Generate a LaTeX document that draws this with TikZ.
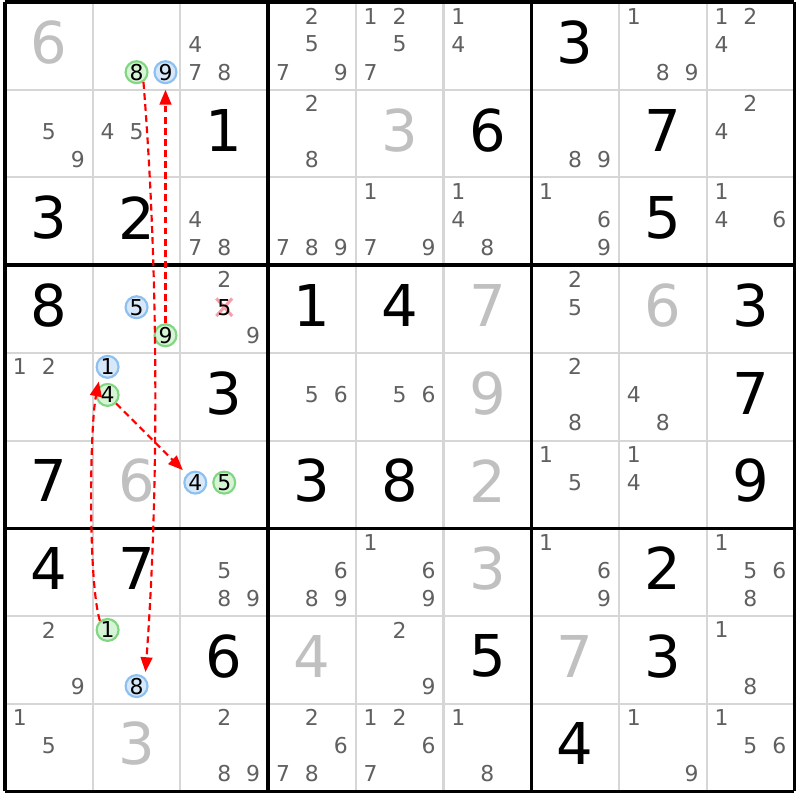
\documentclass[tikz,border=0pt]{standalone}
\usepackage{fontspec}
\setmainfont{DejaVu Sans}
\usetikzlibrary{arrows.meta}
\definecolor{candgray}{RGB}{96,96,96}
\definecolor{solvedgray}{RGB}{192,192,192}
\definecolor{thingrid}{RGB}{214,214,214}
\definecolor{greenfill}{RGB}{214,244,214}
\definecolor{greenline}{RGB}{130,214,130}
\definecolor{bluefill}{RGB}{214,232,250}
\definecolor{blueline}{RGB}{140,192,240}
\definecolor{crosspink}{RGB}{245,160,168}
\begin{document}
\begin{tikzpicture}[
        given/.style = {font = \fontsize{18.7}{20}\selectfont, inner sep = 0pt},
        solved/.style = {given, text = solvedgray},
        cand/.style = {font = \fontsize{7.1}{8}\selectfont, text = candgray, inner sep = 0pt},
        hlgreen/.style = {cand, text = black, circle, draw = greenline, fill = greenfill, line width = 0.7pt, minimum size = 0.25cm},
        hlblue/.style = {hlgreen, draw = blueline, fill = bluefill},
        link/.style = {red, line width = 0.7pt, dash pattern = on 2.2pt off 1.4pt, shorten > = 1.8pt, -{Triangle[length = 4.8pt, width = 3.8pt]}}
    ]
        \useasboundingbox (-0.057, 0.023) rectangle (9.065, -9.099);
        \foreach \i in {1, 2, 4, 5, 7, 8} {
            \draw [thingrid, line width = 0.65pt] (\i, 0) -- (\i, -9);
            \draw [thingrid, line width = 0.65pt] (0, -\i) -- (9, -\i);
        }
        \foreach \i in {0, 3, 6, 9} {
            \draw [line width = 1.1pt] (\i, 0) -- (\i, -9);
            \draw [line width = 1.1pt] (0, -\i) -- (9, -\i);
        }
        \foreach \rw/\cl/\dg in {0/6/3, 1/2/1, 1/5/6, 1/7/7, 2/0/3, 2/1/2, 2/7/5, 3/0/8, 3/3/1, 3/4/4, 3/8/3, 4/2/3, 4/8/7, 5/0/7, 5/3/3, 5/4/8, 5/8/9, 6/0/4, 6/1/7, 6/7/2, 7/2/6, 7/5/5, 7/7/3, 8/6/4}
            \node [given] (g-\rw-\cl) at (\cl + 0.5, -\rw - 0.46) {\dg};
        \foreach \rw/\cl/\dg in {0/0/6, 1/4/3, 3/5/7, 3/7/6, 4/5/9, 5/1/6, 5/5/2, 6/5/3, 7/3/4, 7/6/7, 8/1/3}
            \node [solved] (g-\rw-\cl) at (\cl + 0.5, -\rw - 0.46) {\dg};
        \foreach \rw/\cl/\ds in {0/2/{4,7,8}, 0/3/{2,5,7,9}, 0/4/{1,2,5,7}, 0/5/{1,4}, 0/7/{1,8,9}, 0/8/{1,2,4},
                1/0/{5,9}, 1/1/{4,5}, 1/3/{2,8}, 1/6/{8,9}, 1/8/{2,4},
                2/2/{4,7,8}, 2/3/{7,8,9}, 2/4/{1,7,9}, 2/5/{1,4,8}, 2/6/{1,6,9}, 2/8/{1,4,6},
                3/2/{2,9}, 3/6/{2,5},
                4/0/{1,2}, 4/3/{5,6}, 4/4/{5,6}, 4/6/{2,8}, 4/7/{4,8},
                5/6/{1,5}, 5/7/{1,4},
                6/2/{5,8,9}, 6/3/{6,8,9}, 6/4/{1,6,9}, 6/6/{1,6,9}, 6/8/{1,5,6,8},
                7/0/{2,9}, 7/4/{2,9}, 7/8/{1,8},
                8/0/{1,5}, 8/2/{2,8,9}, 8/3/{2,6,7,8}, 8/4/{1,2,6,7}, 8/5/{1,8}, 8/7/{1,9}, 8/8/{1,5,6}}
            \foreach \dg in \ds
                \node [cand] (n-\rw-\cl-\dg) at ({\cl + 0.17 + 0.33*mod(\dg - 1, 3)}, {-\rw - 0.16 - 0.32*floor((\dg - 1)/3)}) {\dg};
        \draw [crosspink, line width = 1pt] (2.41, -3.38) -- (2.59, -3.58);
        \draw [crosspink, line width = 1pt] (2.41, -3.58) -- (2.59, -3.38);
        \node [cand, text = black] (n-3-2-5) at (2.5, -3.48) {5};
        \foreach \rw/\cl/\dg/\k in {0/1/8/hlgreen, 0/1/9/hlblue, 3/1/5/hlblue, 3/1/9/hlgreen, 4/1/1/hlblue, 4/1/4/hlgreen, 5/2/4/hlblue, 5/2/5/hlgreen, 7/1/1/hlgreen, 7/1/8/hlblue}
            \node [\k] (n-\rw-\cl-\dg) at ({\cl + 0.17 + 0.33*mod(\dg - 1, 3)}, {-\rw - 0.16 - 0.32*floor((\dg - 1)/3)}) {\dg};
        \draw [link] (n-0-1-8.-55) .. controls +(0.17, -2.1) and +(0.16, 2.15) .. (n-7-1-8.45);
        \draw [link] (n-3-1-9) -- (n-0-1-9);
        \draw [link] (n-4-1-4) -- (n-5-2-4);
        \draw [link] (n-7-1-1.130) .. controls +(-0.137, 0.456) and +(-0.114, -0.57) .. (n-4-1-1.-130);
    \end{tikzpicture}
\end{document}
